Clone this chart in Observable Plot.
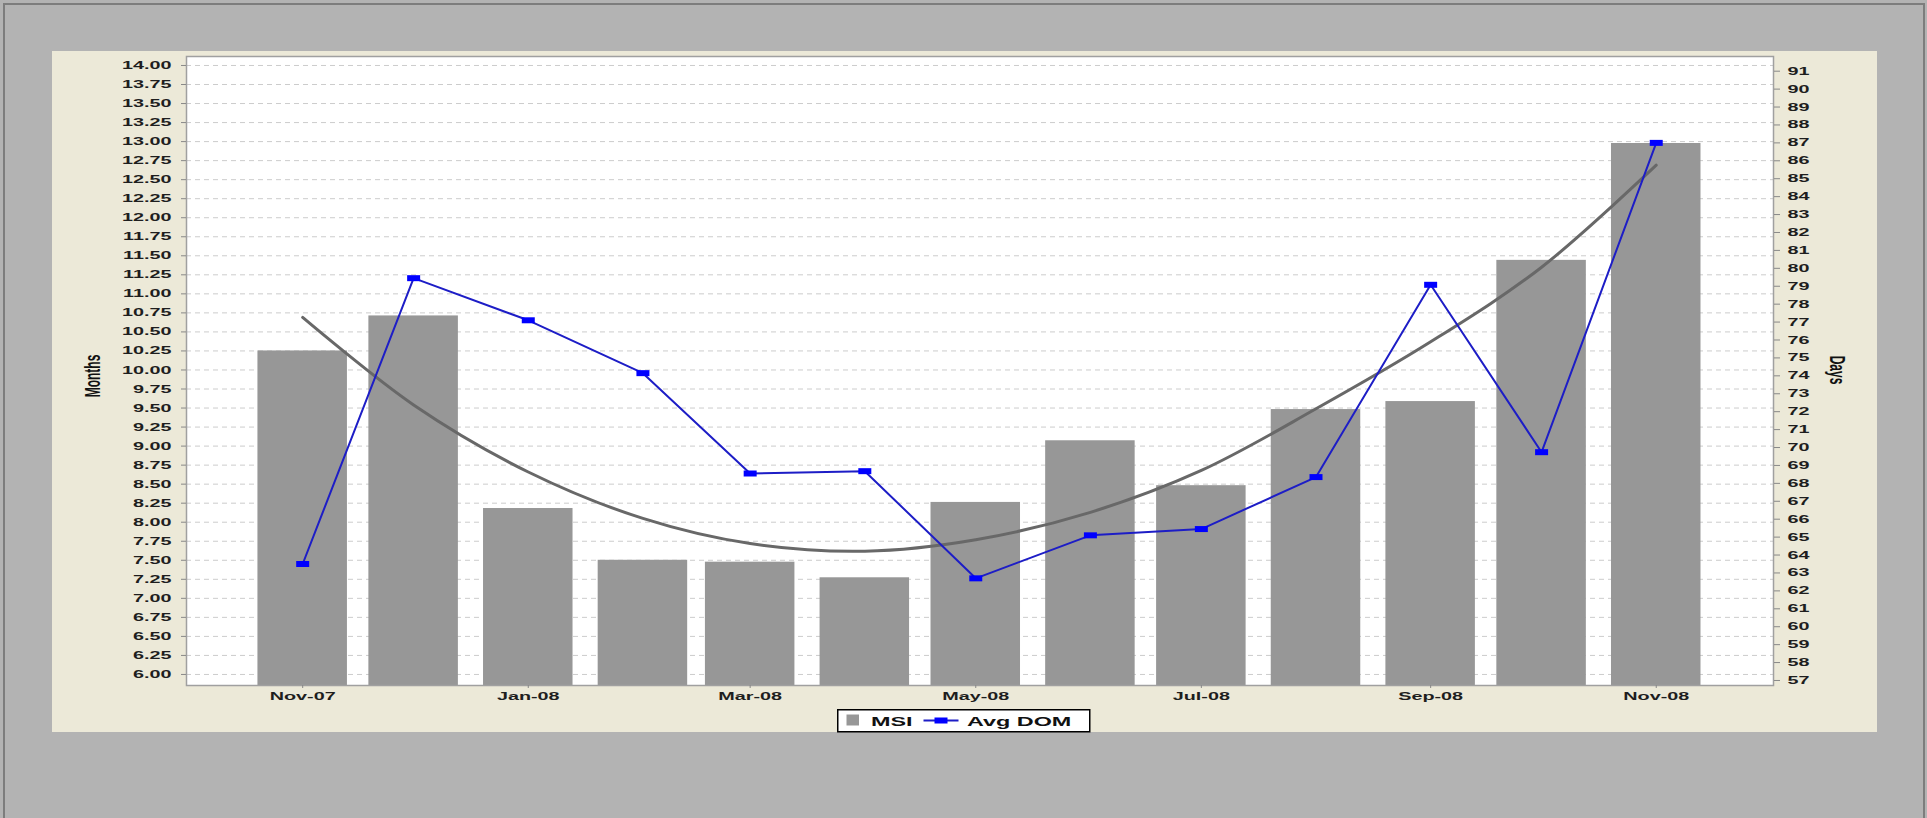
<!DOCTYPE html>
<html>
<head>
<meta charset="utf-8">
<script src="https://cdn.jsdelivr.net/npm/d3@7"></script>
<script src="https://cdn.jsdelivr.net/npm/@observablehq/plot@0.6"></script>
<style>
html, body { margin: 0; padding: 0; }
body { width: 1927px; height: 818px; background: #b3b3b3; position: relative; overflow: hidden; font-family: "Liberation Sans", Arial, sans-serif; }
#frame { position: absolute; left: 3px; top: 3px; width: 1918px; height: 820px; border: 2px solid #7d7d7d; border-bottom: none; }
#panel { position: absolute; left: 52px; top: 51px; width: 1825px; height: 681px; background: #ece9d8; }
#chart { position: absolute; left: 52px; top: 51px; }
#legend { position: absolute; left: 837px; top: 709px; }
</style>
</head>
<body>
<div id="frame"></div>
<div id="panel"></div>
<div id="chart"></div>
<div id="legend"></div>
<script>
// ---- data ----
const months = ["2007-11-01","2007-12-01","2008-01-01","2008-02-01","2008-03-01","2008-04-01","2008-05-01","2008-06-01","2008-07-01","2008-08-01","2008-09-01","2008-10-01","2008-11-01"];
const msi = [10.25, 10.71, 8.18, 7.50, 7.475, 7.27, 8.26, 9.07, 8.48, 9.48, 9.585, 11.44, 12.975];
const avgDom = [63.5, 79.45, 77.1, 74.15, 68.55, 68.68, 62.7, 65.1, 65.45, 68.35, 79.08, 69.74, 87.0];
const msiTrend = [10.69, 9.54, 8.66, 8.05, 7.72, 7.62, 7.77, 8.13, 8.68, 9.49, 10.37, 11.35, 12.69];
const leftTicks = d3.range(6, 14.001, 0.25);
const rightTicks = d3.range(57, 92, 1);
const xTickLabels = ["2007-11-01","2008-01-01","2008-03-01","2008-05-01","2008-07-01","2008-09-01","2008-11-01"];
const legendLabels = ["MSI", "Avg DOM"];
const axisTitles = ["Months", "Days"];

// ---- scales setup ----
const parse = d3.utcParse("%Y-%m-%d");
const yDomain = [5.855, 14.118];
const domDomain = [56.72, 91.82];
const y2 = d3.scaleLinear(domDomain, yDomain);
const xDomain = [new Date(Date.UTC(2007, 8, 30, 14)), new Date(Date.UTC(2008, 11, 2, 17))];
const halfBar = 12.1 * 864e5;

const data = months.map((m, i) => ({date: parse(m), msi: msi[i], dom: avgDom[i], trend: msiTrend[i]}));
const xTicks = xTickLabels.map(parse);

const rectSym = {draw(ctx) { ctx.rect(-6.5, -3, 13, 6); }};
const STRETCH = 1.8;
// the right-axis formatter may receive either the day value or its mapped position
const dayFormat = v => String(Math.round(v > 30 ? v : y2.invert(v)));

const chart = Plot.plot({
  width: 1825,
  height: 655,
  marginLeft: 134,
  marginRight: 104,
  marginTop: 5,
  marginBottom: 21,
  style: {background: "transparent", fontFamily: "'Liberation Sans', Arial, sans-serif", fontSize: "11px", overflow: "visible"},
  x: {type: "utc", domain: xDomain},
  y: {domain: yDomain},
  marks: [
    Plot.frame({fill: "white", stroke: "none"}),
    Plot.gridY(leftTicks, {stroke: "#cccccc", strokeOpacity: 1, strokeDasharray: "5,4"}),
    Plot.rect(data, {x1: d => new Date(+d.date - halfBar), x2: d => new Date(+d.date + halfBar), y1: yDomain[0], y2: "msi", fill: "#979797"}),
    Plot.line(data, {x: "date", y: "trend", curve: "catmull-rom", stroke: "#686868", strokeWidth: 3}),
    Plot.line(data, {x: "date", y: d => y2(d.dom), stroke: "#1d1dc6", strokeWidth: 2}),
    Plot.dot(data, {x: "date", y: d => y2(d.dom), symbol: rectSym, fill: "#0000ff", stroke: "none", r: 3}),
    Plot.frame({stroke: "#a0a0a0", strokeWidth: 1.5}),
    Plot.axisY(leftTicks, {anchor: "left", tickSize: 5, tickPadding: 10, tickFormat: d3.format(".2f"), label: null, stroke: "#888", fill: "#1e1e1e", fontWeight: "bold"}),
    Plot.axisY(rightTicks, {anchor: "right", y: d => y2(d), tickSize: 6, tickPadding: 8, tickFormat: dayFormat, label: null, stroke: "#888", fill: "#1e1e1e", fontWeight: "bold"}),
    Plot.axisX(xTicks, {tickSize: 3, tickPadding: 4, tickFormat: d3.utcFormat("%b-%y"), label: null, stroke: "#888", fill: "#1e1e1e", fontWeight: "bold"})
  ]
});

document.getElementById("chart").appendChild(chart);

// stretch tick labels horizontally (the reference text is widened)
d3.select(chart).selectAll('g[aria-label$="tick label"] text').each(function() {
  let t = this.getAttribute("transform");
  if (!t) {
    const x = this.getAttribute("x") || 0, y = this.getAttribute("y") || 0;
    this.removeAttribute("x"); this.removeAttribute("y");
    t = `translate(${x},${y})`;
  }
  this.setAttribute("transform", `${t} scale(${STRETCH},1)`);
});

// axis titles
const svg = d3.select(chart);
svg.append("text")
  .attr("transform", `translate(40,325) rotate(-90) scale(1,${STRETCH})`)
  .attr("text-anchor", "middle").attr("dy", "0.35em")
  .attr("font-size", 12).attr("font-weight", "bold").attr("fill", "#111")
  .text(axisTitles[0]);
svg.append("text")
  .attr("transform", `translate(1786,319) rotate(90) scale(1,${STRETCH})`)
  .attr("text-anchor", "middle").attr("dy", "0.35em")
  .attr("font-size", 12).attr("font-weight", "bold").attr("fill", "#111")
  .text(axisTitles[1]);

// legend
const lg = d3.select("#legend").append("svg").attr("width", 256).attr("height", 25)
  .style("font-family", "'Liberation Sans', Arial, sans-serif");
lg.append("rect").attr("x", 0.75).attr("y", 0.75).attr("width", 252).attr("height", 22)
  .attr("fill", "white").attr("stroke", "#000").attr("stroke-width", 1.5);
lg.append("rect").attr("x", 9.5).attr("y", 5.5).attr("width", 12.5).attr("height", 11).attr("fill", "#979797");
lg.append("text").attr("transform", `translate(34,12) scale(${STRETCH},1)`).attr("dy", "0.35em")
  .attr("font-size", 13).attr("font-weight", "bold").attr("fill", "#111").text(legendLabels[0]);
lg.append("line").attr("x1", 86.5).attr("x2", 121.5).attr("y1", 11.5).attr("y2", 11.5)
  .attr("stroke", "#1d1dc6").attr("stroke-width", 2);
lg.append("rect").attr("x", 97.5).attr("y", 8.5).attr("width", 13).attr("height", 6).attr("fill", "#0000ff");
lg.append("text").attr("transform", `translate(130,12) scale(${STRETCH},1)`).attr("dy", "0.35em")
  .attr("font-size", 13).attr("font-weight", "bold").attr("fill", "#111").text(legendLabels[1]);
</script>
</body>
</html>
